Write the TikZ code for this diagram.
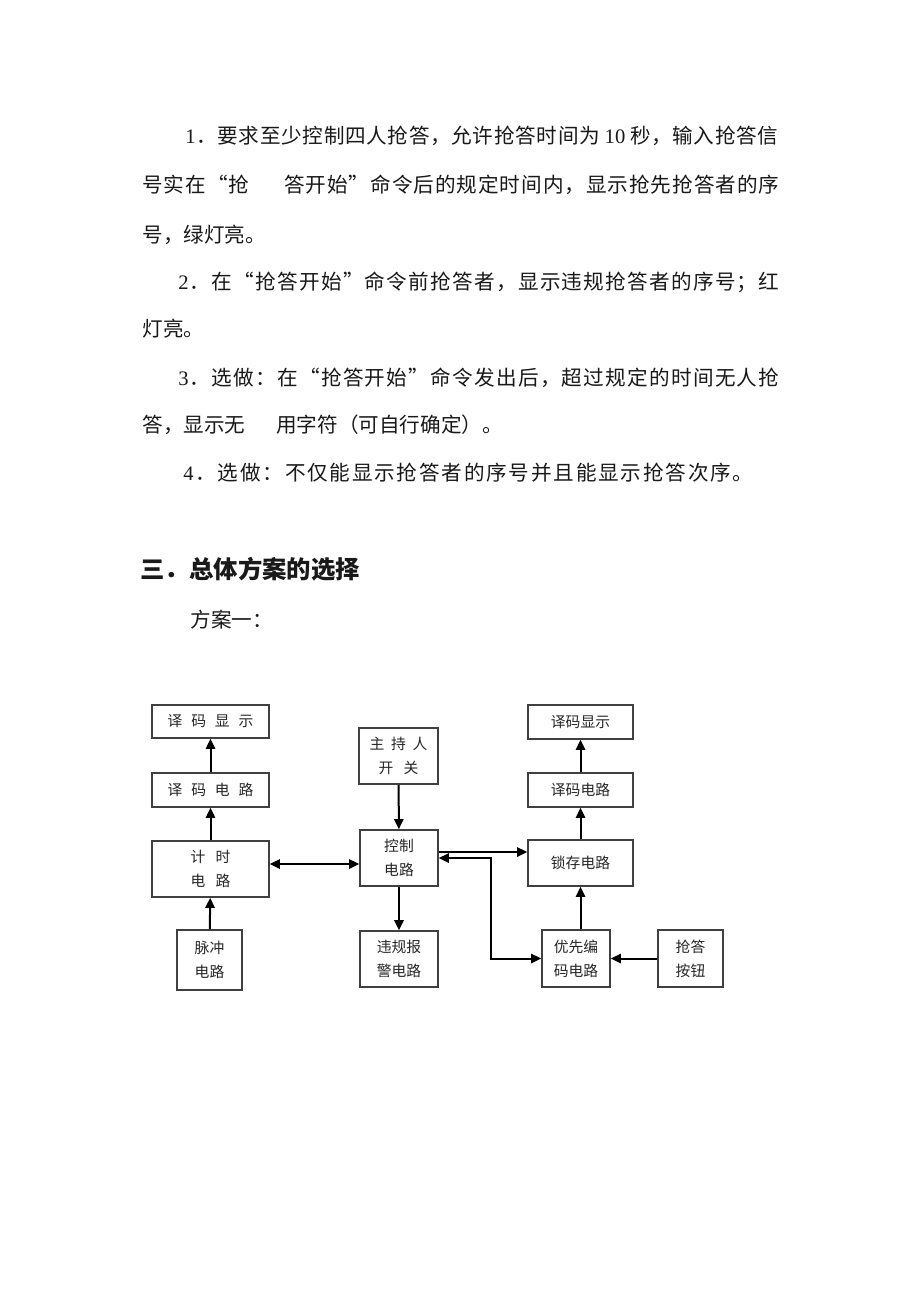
\documentclass[tikz,border=0pt]{standalone}
\usepackage{fontspec}
\setmainfont{Liberation Serif}
\newfontfamily\cjk{Noto Sans CJK SC}
\usetikzlibrary{arrows.meta}
% spread one printed line over a given width
\def\spread#1#2{\hbox to #1{\spreadloop#2\relax\unskip}}
\def\spreadloop#1{\ifx\relax#1\else{#1}\hfil\expandafter\spreadloop\fi}
\def\gap{\hspace{1.6em}}
\tikzset{
  >={Triangle[length=5pt,width=4.6pt]},
  para/.style={anchor=base west, inner sep=0pt, text=black!90, font=\cjk\fontsize{10.3}{12}\selectfont},
  block/.style={draw=black!75, line width=0.8pt, inner sep=0pt, align=center, text=black!85, font=\cjk\fontsize{7.4}{12}\selectfont},
  link/.style={line width=1pt, ->},
}

\begin{document}
\begin{tikzpicture}[x=0.5pt, y=-0.5pt]
			%%%%% START %%%%%
			\useasboundingbox[fill=white] (0,0) rectangle (920,1302);
			
			% requirements
			\node[para] (req1a) at (185,143) {\spread{296.5pt}{{\rmfamily 1}．要求至少控制四人抢答，允许抢答时间为{\rmfamily\hspace{0.2em}10\hspace{0.2em}}秒，输入抢答信}};
			\node[para] (req1b) at (142,192) {\spread{318.5pt}{号实在“抢\gap 答开始”命令后的规定时间内，显示抢先抢答者的序}};
			\node[para] (req1c) at (142,242) {号，绿灯亮。};
			\node[para] (req2a) at (178,289) {\spread{300.5pt}{{\rmfamily 2}．在“抢答开始”命令前抢答者，显示违规抢答者的序号；红}};
			\node[para] (req2b) at (142,336) {灯亮。};
			\node[para] (req3a) at (178,385) {\spread{300.5pt}{{\rmfamily 3}．选做：在“抢答开始”命令发出后，超过规定的时间无人抢}};
			\node[para] (req3b) at (142,432) {答，显示无\hspace{1.5em}用字符（可自行确定）。};
			\node[para] (req4) at (183,480) {\spread{285pt}{{\rmfamily 4}．选做：不仅能显示抢答者的序号并且能显示抢答次序。}};
			
			\node[para, font=\cjk\bfseries\fontsize{12.2}{14}\selectfont] (title) at (140,578) {三．总体方案的选择};
			\node[para] (plan) at (190,627) {方案一：};
			
			% left column
			\node[block, minimum width=58.5pt, minimum height=16.5pt] (dispL) at (210.5,721.5) {译\hspace{0.6em}码\hspace{0.6em}显\hspace{0.6em}示};
			\node[block, minimum width=58.5pt, minimum height=17pt] (decL) at (210.5,790) {译\hspace{0.6em}码\hspace{0.6em}电\hspace{0.6em}路};
			\node[block, minimum width=58.5pt, minimum height=28pt] (timer) at (210.5,869) {计\hspace{0.7em}时\\电\hspace{0.7em}路};
			\node[block, minimum width=32.5pt, minimum height=30pt] (pulse) at (209.5,960) {脉冲\\电路};
			
			% middle column
			\node[block, minimum width=39.5pt, minimum height=28pt] (host) at (398.5,756) {主\hspace{0.45em}持\hspace{0.45em}人\\开\hspace{0.7em}关};
			\node[block, minimum width=39pt, minimum height=28pt] (ctrl) at (399,858) {控制\\电路};
			\node[block, minimum width=39pt, minimum height=28pt] (alarm) at (399,959) {违规报\\警电路};
			
			% right column
			\node[block, minimum width=52.5pt, minimum height=17pt] (dispR) at (580.5,722) {译码显示};
			\node[block, minimum width=52.5pt, minimum height=17pt] (decR) at (580.5,790) {译码电路};
			\node[block, minimum width=52.5pt, minimum height=23pt] (latch) at (580.5,863) {锁存电路};
			\node[block, minimum width=34pt, minimum height=28.5pt] (enc) at (576,958.5) {优先编\\码电路};
			\node[block, minimum width=32.5pt, minimum height=28.5pt] (btn) at (690.5,958.5) {抢答\\按钮};
			
			% connections
			\draw[link] (decL) -- (dispL);
			\draw[link] (timer) -- (decL);
			\draw[link] (pulse) -- (timer);
			\draw[link, <->] ([yshift=2.5pt]timer.east) -- ([yshift=2.5pt]timer.east -| ctrl.west);
			\draw[link] (host) -- (ctrl);
			\draw[link] (ctrl) -- (alarm);
			\draw[link] ([yshift=3pt]ctrl.east) -- ([yshift=3pt]ctrl.east -| latch.west);
			\draw[link, <->] (ctrl.east) -- ++(26pt,0) |- (enc.west);
			\draw[link] (latch.south |- enc.north) -- (latch.south);
			\draw[link] (latch) -- (decR);
			\draw[link] (decR) -- (dispR);
			\draw[link] (btn) -- (enc);
			
			%%%%% END %%%%%
\end{tikzpicture}
\end{document}
